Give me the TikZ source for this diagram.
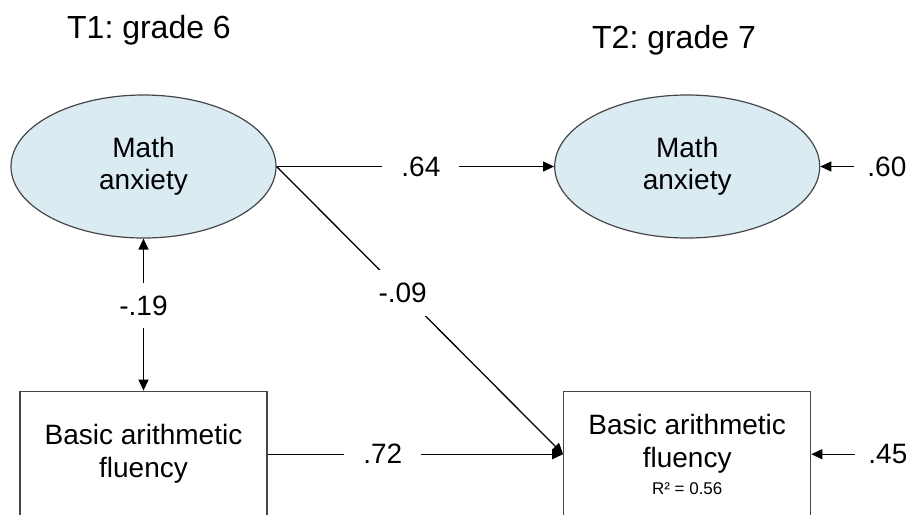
\documentclass[tikz,border=0pt]{standalone}
\usepackage{fontspec}
\setmainfont{Liberation Sans}
\frenchspacing
\usepackage{tikz}
\usetikzlibrary{arrows.meta,positioning,shapes.geometric}
\definecolor{latentblue}{RGB}{218,235,242}
\definecolor{bordergray}{RGB}{70,70,70}
\tikzset{
    %Define standard arrow tip
    >={Triangle[length=5.5pt,width=5pt]},
    %Define style for latent variables
    latent/.style={
           ellipse,
           draw=bordergray, line width=0.6pt,
           fill=latentblue,
           minimum width=132.5pt,
           minimum height=71.5pt,
           inner sep=0pt,
           align=center,
           font=\fontsize{14pt}{16pt}\selectfont,
           },
    %Define style for observed variables
    observed/.style={
           rectangle,
           draw=bordergray, line width=0.6pt,
           minimum width=123.5pt,
           minimum height=63pt,
           inner sep=0pt,
           align=center,
           font=\fontsize{14pt}{16.5pt}\selectfont,
           },
    % Define style for path coefficients
    coef/.style={
           fill=white,
           inner xsep=9.5pt,
           inner ysep=6.5pt,
           font=\fontsize{14pt}{16pt}\selectfont,
           },
    resid/.style={
           inner xsep=6.5pt,
           font=\fontsize{14pt}{16pt}\selectfont,
           },
    wave/.style={
           anchor=base,
           font=\fontsize{16pt}{19pt}\selectfont,
           },
}

\begin{document}
\begin{tikzpicture}[->,x=0.5pt,y=-0.5pt,line width=0.65pt]
 \useasboundingbox (0,0) rectangle (906,516);
 \clip (0,0) rectangle (906,514);

 %nodes
 \node[wave] (t1) at (149,38) {T1: grade 6};
 \node[wave] (t2) at (674,48) {T2: grade 7};
 \node[latent] (1) at (143.5,166.5) {Math\\anxiety};
 \node[latent, right=138.75pt of 1] (2) {Math\\anxiety};
 \node[observed, below=76pt of 1] (3) {Basic arithmetic\\fluency};
 \node[observed, right=147.75pt of 3] (4) {Basic arithmetic\\fluency\\[-3pt]{\fontsize{8.5pt}{10pt}\selectfont R² = 0.56}};
 \node[resid, right=16.75pt of 2] (e2) {.60};
 \node[resid, right=21.75pt of 4] (e4) {.45};

 %paths
 \path
   (1) edge node[coef, pos=0.52] {.64} (2)
   (1) edge[<->] node[coef, pos=0.44] {-.19} (3)
   (1.east) edge node[coef, pos=0.44] {-.09} (4.west)
   (3) edge node[coef, pos=0.39] {.72} (4)
   (e2) edge (2)
   (e4) edge (4);
\end{tikzpicture}
\end{document}
